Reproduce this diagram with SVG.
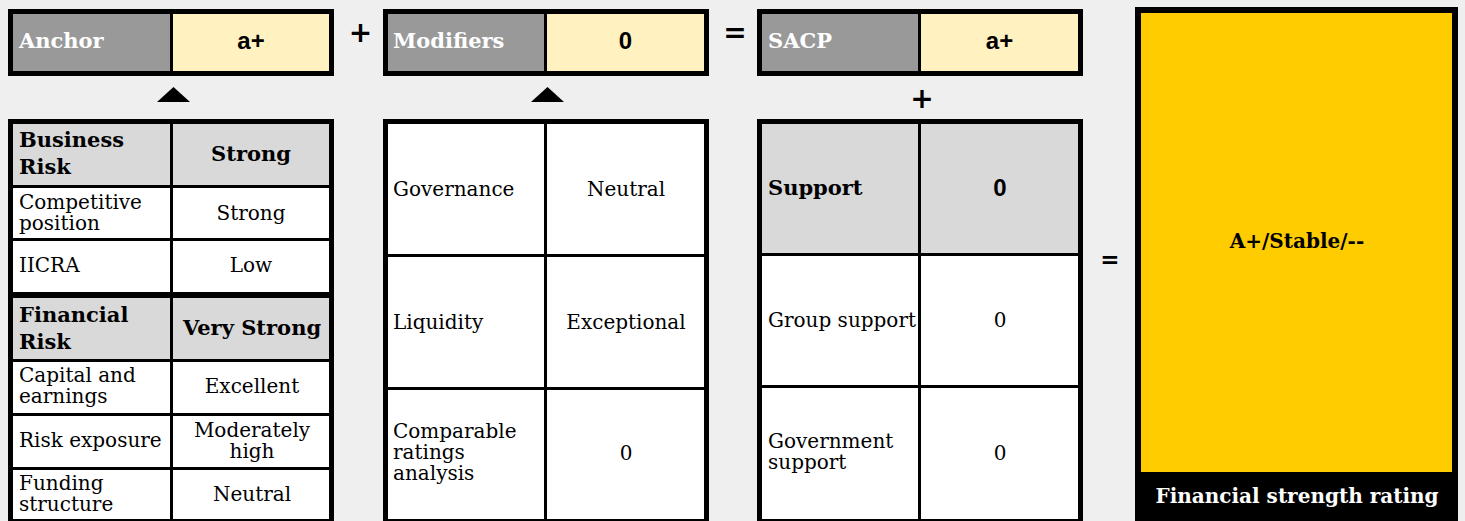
<svg xmlns="http://www.w3.org/2000/svg" width="1465" height="521" viewBox="0 0 1465 521">
<style>
.bg{fill:#efefef}
.frame{fill:#000}
.hd{fill:#999999}
.val{fill:#fff1c0}
.gry{fill:#d9d9d9}
.wht{fill:#ffffff}
.gold{fill:#ffcc00}
.hb{font-family:"DejaVu Serif","Liberation Serif",serif;font-weight:bold;font-size:21px;fill:#000}
.hw{font-family:"DejaVu Serif","Liberation Serif",serif;font-weight:bold;font-size:21px;fill:#fff}
.rg{font-family:"DejaVu Serif","Liberation Serif",serif;font-size:20px;fill:#000}
.sv{font-family:"Liberation Sans","DejaVu Sans",sans-serif;font-weight:bold;font-size:24px;fill:#000}
.op{font-family:"DejaVu Sans","Liberation Sans",sans-serif;font-weight:bold;font-size:28px;fill:#000;text-anchor:middle}
.c{text-anchor:middle}
</style>
<rect class="bg" x="0" y="0" width="1465" height="521"/>

<g id="anchor">
  <rect class="frame" x="8" y="9" width="326" height="67"/>
  <rect class="hd" x="13" y="14" width="157" height="57"/>
  <rect class="val" x="173" y="14" width="156" height="57"/>
  <text class="hw" x="19" y="48">Anchor</text>
  <text class="sv c" x="251" y="49">a+</text>
</g>

<g id="modifiers">
  <rect class="frame" x="383" y="9" width="326" height="67"/>
  <rect class="hd" x="388" y="14" width="156" height="57"/>
  <rect class="val" x="547" y="14" width="157" height="57"/>
  <text class="hw" x="393" y="48">Modifiers</text>
  <text class="sv c" x="625.5" y="49">0</text>
</g>

<g id="sacp">
  <rect class="frame" x="757" y="9" width="326" height="67"/>
  <rect class="hd" x="762" y="14" width="156" height="57"/>
  <rect class="val" x="921" y="14" width="157" height="57"/>
  <text class="hw" x="768" y="48">SACP</text>
  <text class="sv c" x="999.5" y="49">a+</text>
</g>

<g id="anchor-table">
  <rect class="frame" x="8" y="119" width="326" height="410"/>
  <rect class="gry" x="13" y="124" width="157" height="61"/>
  <rect class="gry" x="173" y="124" width="156" height="61"/>
  <rect class="wht" x="13" y="188" width="157" height="50"/>
  <rect class="wht" x="173" y="188" width="156" height="50"/>
  <rect class="wht" x="13" y="241" width="157" height="51"/>
  <rect class="wht" x="173" y="241" width="156" height="51"/>
  <rect class="gry" x="13" y="298" width="157" height="61"/>
  <rect class="gry" x="173" y="298" width="156" height="61"/>
  <rect class="wht" x="13" y="362" width="157" height="51"/>
  <rect class="wht" x="173" y="362" width="156" height="51"/>
  <rect class="wht" x="13" y="416" width="157" height="51"/>
  <rect class="wht" x="173" y="416" width="156" height="51"/>
  <rect class="wht" x="13" y="470" width="157" height="49"/>
  <rect class="wht" x="173" y="470" width="156" height="49"/>
  <text class="hb" x="19" y="147">Business</text>
  <text class="hb" x="19" y="174">Risk</text>
  <text class="hb c" x="251" y="161">Strong</text>
  <text class="rg" x="19" y="209">Competitive</text>
  <text class="rg" x="19" y="230">position</text>
  <text class="rg c" x="251" y="220">Strong</text>
  <text class="rg" x="19" y="272">IICRA</text>
  <text class="rg c" x="251" y="272">Low</text>
  <text class="hb" x="19" y="322">Financial</text>
  <text class="hb" x="19" y="349">Risk</text>
  <text class="hb c" x="252" y="335">Very Strong</text>
  <text class="rg" x="19" y="382">Capital and</text>
  <text class="rg" x="19" y="403">earnings</text>
  <text class="rg c" x="252" y="393">Excellent</text>
  <text class="rg" x="19" y="447">Risk exposure</text>
  <text class="rg c" x="252" y="437">Moderately</text>
  <text class="rg c" x="252" y="458">high</text>
  <text class="rg" x="19" y="490">Funding</text>
  <text class="rg" x="19" y="511">structure</text>
  <text class="rg c" x="252" y="501">Neutral</text>
</g>

<g id="modifiers-table">
  <rect class="frame" x="383" y="119" width="326" height="410"/>
  <rect class="wht" x="388" y="124" width="156" height="130"/>
  <rect class="wht" x="547" y="124" width="157" height="130"/>
  <rect class="wht" x="388" y="257" width="156" height="130"/>
  <rect class="wht" x="547" y="257" width="157" height="130"/>
  <rect class="wht" x="388" y="390" width="156" height="129"/>
  <rect class="wht" x="547" y="390" width="157" height="129"/>
  <text class="rg" x="393" y="196">Governance</text>
  <text class="rg c" x="626" y="196">Neutral</text>
  <text class="rg" x="393" y="329">Liquidity</text>
  <text class="rg c" x="626" y="329">Exceptional</text>
  <text class="rg" x="393" y="438">Comparable</text>
  <text class="rg" x="393" y="459">ratings</text>
  <text class="rg" x="393" y="480">analysis</text>
  <text class="rg c" x="626" y="460">0</text>
</g>

<g id="support-table">
  <rect class="frame" x="757" y="119" width="326" height="410"/>
  <rect class="gry" x="762" y="124" width="156" height="129"/>
  <rect class="gry" x="921" y="124" width="157" height="129"/>
  <rect class="wht" x="762" y="256" width="156" height="129"/>
  <rect class="wht" x="921" y="256" width="157" height="129"/>
  <rect class="wht" x="762" y="388" width="156" height="131"/>
  <rect class="wht" x="921" y="388" width="157" height="131"/>
  <text class="hb" x="768" y="195">Support</text>
  <text class="sv c" x="1000" y="196">0</text>
  <text class="rg" x="768" y="327">Group support</text>
  <text class="rg c" x="1000" y="327">0</text>
  <text class="rg" x="768" y="448">Government</text>
  <text class="rg" x="768" y="469">support</text>
  <text class="rg c" x="1000" y="460">0</text>
</g>

<g id="rating">
  <rect class="frame" x="1135" y="7" width="323" height="520"/>
  <rect class="gold" x="1141" y="13" width="311" height="459"/>
  <text class="hb c" x="1297" y="248" style="font-size:20px">A+/Stable/--</text>
  <text class="hw c" x="1297" y="503" style="font-size:20px">Financial strength rating</text>
</g>

<g id="connectors">
  <polygon class="frame" points="157,102 190,102 173.5,87"/>
  <polygon class="frame" points="531,102 564,102 547.5,87"/>
  <text class="op" x="360.5" y="42">+</text>
  <text class="op" x="735" y="42">=</text>
  <text class="op" x="922" y="108">+</text>
  <text class="op" x="1110" y="267" style="font-size:23px">=</text>
</g>
</svg>
